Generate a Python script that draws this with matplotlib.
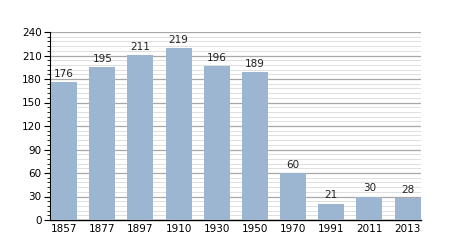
import numpy as np
import matplotlib
matplotlib.use("Agg")
import matplotlib.pyplot as plt
from matplotlib.ticker import MultipleLocator

years = ["1857", "1877", "1897", "1910", "1930", "1950", "1970", "1991", "2011", "2013"]
population = [176, 195, 211, 219, 196, 189, 60, 21, 30, 28]

fig = plt.figure(figsize=(4.5, 2.5), dpi=100)
ax = fig.add_axes([50 / 450, 30 / 250, 371 / 450, 188 / 250])

x = np.arange(len(years))
ax.bar(x, population, width=0.68, color="#9cb5d0", zorder=3)
for xi, v in zip(x, population):
    ax.text(xi, v + 4, str(v), ha="center", va="bottom", fontsize=7.5, color="#222222", zorder=4)

ax.set_xlim(-0.37, 9.35)
ax.set_ylim(0, 240)
ax.yaxis.set_major_locator(MultipleLocator(30))
ax.yaxis.set_minor_locator(MultipleLocator(6))
ax.grid(axis="y", which="major", color="#a8a8a8", linewidth=0.9, zorder=0)
ax.grid(axis="y", which="minor", color="#dedede", linewidth=0.7, zorder=0)

ax.set_xticks(x)
ax.set_xticklabels(years)
ax.tick_params(axis="x", length=0, labelsize=7.5, pad=3)
ax.tick_params(axis="y", which="major", length=4, labelsize=7.5, pad=2)
ax.tick_params(axis="y", which="minor", length=2)

for s in ["top", "right"]:
    ax.spines[s].set_visible(False)
ax.spines["left"].set_linewidth(0.8)
ax.spines["bottom"].set_linewidth(1.0)

fig.savefig("out.png", dpi=100)
